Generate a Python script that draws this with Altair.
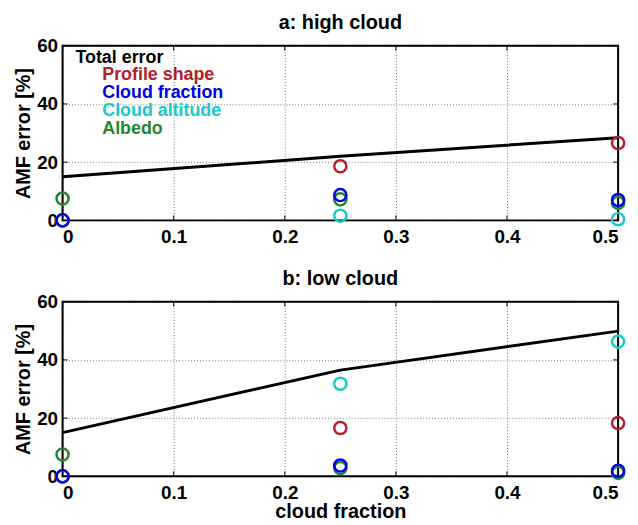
import altair as alt
import pandas as pd

# ---- data ----
cloud_fraction = [0.0, 0.25, 0.5]

high_total = [15.0, 22.0, 28.4]
high_profile = [0.0, 18.6, 26.6]
high_cloudfrac = [0.0, 8.7, 7.0]
high_altitude = [0.0, 1.6, 0.4]
high_albedo = [7.5, 7.2, 6.0]

low_total = [15.0, 36.5, 49.9]
low_profile = [0.0, 16.6, 18.3]
low_cloudfrac = [0.0, 3.7, 1.9]
low_altitude = [0.0, 31.8, 46.3]
low_albedo = [7.5, 2.8, 1.2]

series_names = ["Profile shape", "Cloud altitude", "Albedo", "Cloud fraction"]
series_colors = ["#B2202A", "#19C8C8", "#22892A", "#0000F0"]
legend_labels = ["Total error", "Profile shape", "Cloud fraction", "Cloud altitude", "Albedo"]
legend_colors = ["#000000", "#B2202A", "#0000F0", "#19C8C8", "#22892A"]

x_ticks = [0, 0.1, 0.2, 0.3, 0.4, 0.5]
y_ticks = [0, 20, 40, 60]

W, H = 560, 176
FONT = "Liberation Sans"


def panel(title, total, profile, cfrac, alt_, albedo, show_xtitle, show_legend):
    pts = []
    vals = {"Profile shape": profile, "Cloud altitude": alt_,
            "Albedo": albedo, "Cloud fraction": cfrac}
    for order, name in enumerate(series_names):
        for x, v in zip(cloud_fraction, vals[name]):
            pts.append({"cf": x, "err": v, "series": name, "order": order})
    pts = pd.DataFrame(pts)
    line_df = pd.DataFrame({"cf": cloud_fraction, "err": total})

    xenc = alt.X("cf:Q", scale=alt.Scale(domain=[0, 0.5], nice=False),
                 axis=alt.Axis(values=x_ticks, format="~g", grid=True,
                               gridDash=[1, 2], gridColor="#777777", gridWidth=1,
                               domain=False, ticks=False, labelPadding=7,
                               labelFontSize=19, labelFont=FONT, labelFontWeight="bold",
                               labelColor="black",
                               title="cloud fraction" if show_xtitle else None,
                               titleFontSize=20, titleFont=FONT, titleFontWeight="bold",
                               titleColor="black", titlePadding=0))
    yenc = alt.Y("err:Q", scale=alt.Scale(domain=[0, 60], nice=False),
                 axis=alt.Axis(values=y_ticks, grid=True,
                               gridDash=[1, 2], gridColor="#777777", gridWidth=1,
                               domain=False, ticks=False, labelPadding=5,
                               labelFontSize=19, labelFont=FONT, labelFontWeight="bold",
                               labelColor="black",
                               title="AMF error [%]", titleFontSize=20, titleFont=FONT,
                               titleFontWeight="bold", titleColor="black", titlePadding=3))

    line = alt.Chart(line_df).mark_line(color="black", strokeWidth=3).encode(x=xenc, y=yenc)

    # inward ticks (bottom/top/left/right)
    xt = pd.DataFrame({"cf": x_ticks})
    yt = pd.DataFrame({"err": y_ticks})
    tb = alt.Chart(xt).mark_rule(color="black", strokeWidth=1).encode(
        x="cf:Q", y=alt.value(H), y2=alt.value(H - 5))
    tt = alt.Chart(xt).mark_rule(color="black", strokeWidth=1).encode(
        x="cf:Q", y=alt.value(0), y2=alt.value(5))
    tl = alt.Chart(yt).mark_rule(color="black", strokeWidth=1).encode(
        y="err:Q", x=alt.value(0), x2=alt.value(5))
    tr = alt.Chart(yt).mark_rule(color="black", strokeWidth=1).encode(
        y="err:Q", x=alt.value(W), x2=alt.value(W - 5))

    frame = alt.Chart(pd.DataFrame({"k": [0]})).mark_rect(
        fill=None, stroke="black", strokeWidth=2).encode(
        x=alt.value(0), x2=alt.value(W), y=alt.value(0), y2=alt.value(H))

    points = alt.Chart(pts).mark_point(shape="circle", filled=False, size=150,
                                       strokeWidth=2.5, opacity=1).encode(
        x="cf:Q", y="err:Q",
        color=alt.Color("series:N", scale=alt.Scale(domain=series_names, range=series_colors),
                        legend=None),
        order=alt.Order("order:Q"))

    layers = [line, tb, tt, tl, tr, frame, points]

    if show_legend:
        ys = [17, 35, 53, 71, 89]
        xs = [13, 40, 40, 40, 40]
        for lab, col, yy, xx in zip(legend_labels, legend_colors, ys, xs):
            layers.append(
                alt.Chart(pd.DataFrame({"t": [lab]})).mark_text(
                    align="left", baseline="alphabetic", font=FONT, fontWeight="bold",
                    fontSize=18, color=col).encode(
                    text="t:N", x=alt.value(xx), y=alt.value(yy)))

    return alt.layer(*layers).properties(
        width=W, height=H,
        title=alt.TitleParams(title, fontSize=20, font=FONT, fontWeight="bold",
                              color="black", offset=4, anchor="middle"))


top = panel("a: high cloud", high_total, high_profile, high_cloudfrac, high_altitude,
            high_albedo, False, True)
bottom = panel("b: low cloud", low_total, low_profile, low_cloudfrac, low_altitude,
               low_albedo, True, False)

chart = alt.vconcat(top, bottom, spacing=21).properties(
    padding={"left": 5, "top": 2, "right": 0, "bottom": 0}
).configure_view(stroke=None).configure(background="white")

chart.save("out.html", embed_options={"renderer": "svg", "actions": False})
